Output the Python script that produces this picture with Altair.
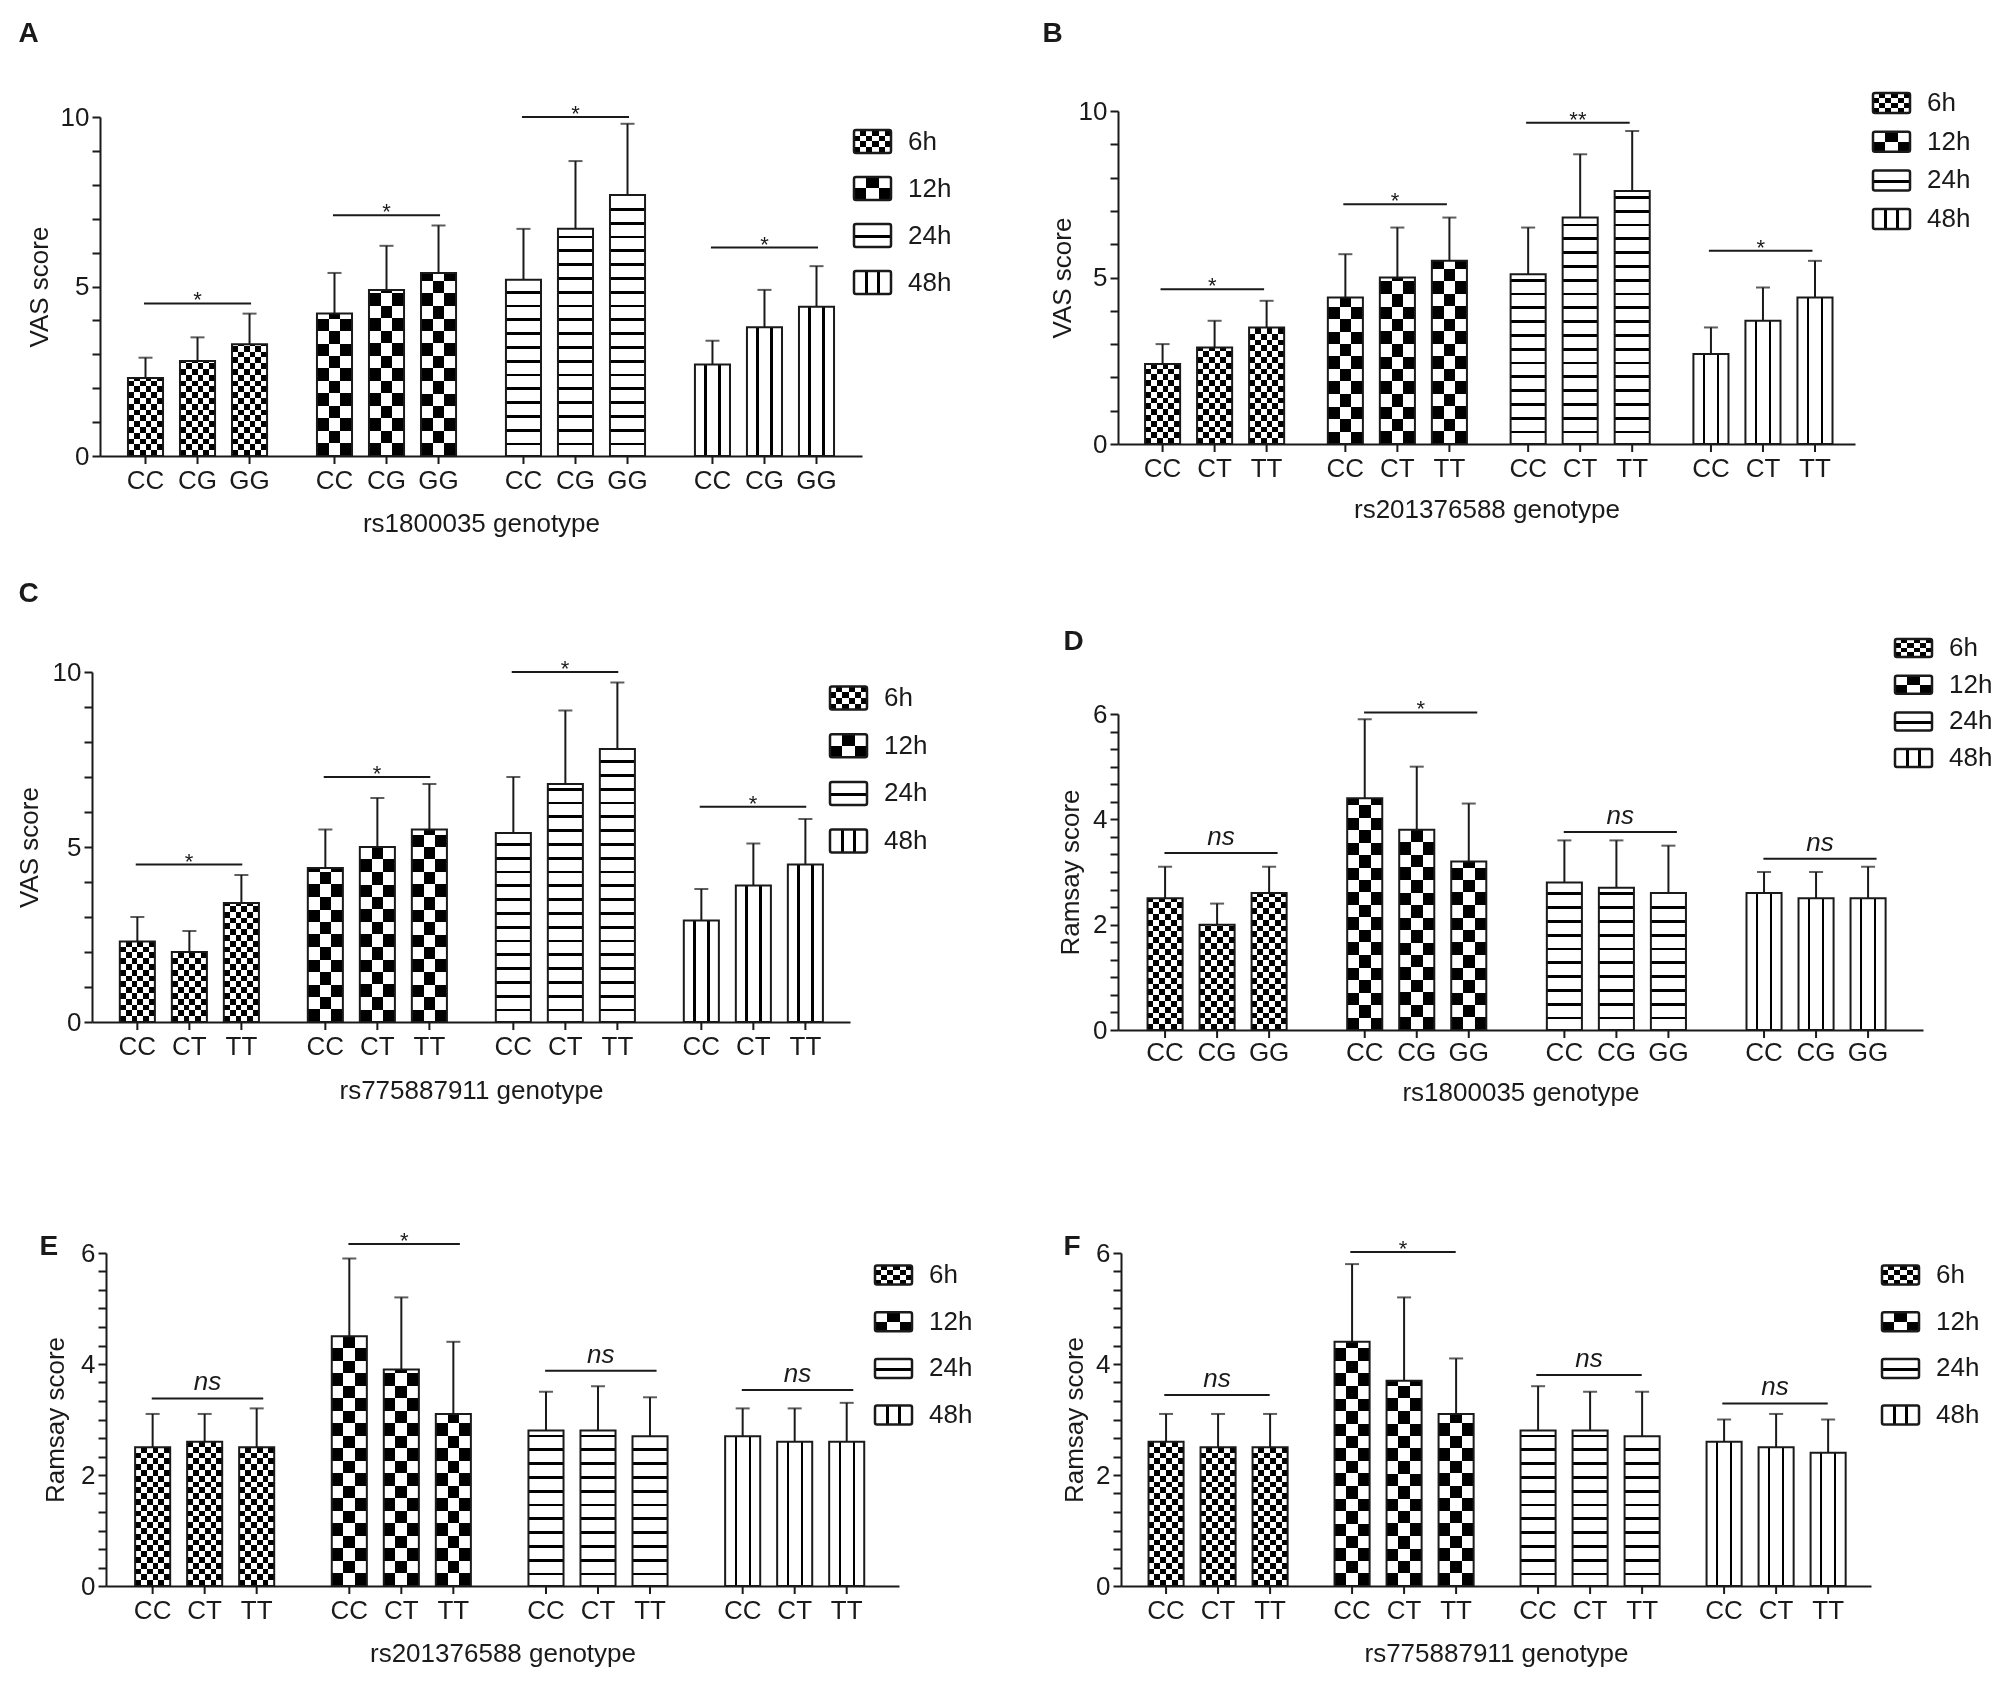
import altair as alt

FONT = "Liberation Sans"
INK = "#1a1a1a"
TIMES = ["6h", "12h", "24h", "48h"]
GENO_G = ["CC", "CG", "GG"]
GENO_T = ["CC", "CT", "TT"]

# values: 6h, 12h, 24h, 48h x three genotypes
# mean = bar height, top = end of the whisker
a_mean = [2.3, 2.8, 3.3, 4.2, 4.9, 5.4, 5.2, 6.7, 7.7, 2.7, 3.8, 4.4]
a_top = [2.9, 3.5, 4.2, 5.4, 6.2, 6.8, 6.7, 8.7, 9.8, 3.4, 4.9, 5.6]
a_sig = [4.5, 7.1, 10.0, 6.15]
a_txt = ["*", "*", "*", "*"]

b_mean = [2.4, 2.9, 3.5, 4.4, 5.0, 5.5, 5.1, 6.8, 7.6, 2.7, 3.7, 4.4]
b_top = [3.0, 3.7, 4.3, 5.7, 6.5, 6.8, 6.5, 8.7, 9.4, 3.5, 4.7, 5.5]
b_sig = [4.65, 7.2, 9.65, 5.8]
b_txt = ["*", "*", "**", "*"]

c_mean = [2.3, 2.0, 3.4, 4.4, 5.0, 5.5, 5.4, 6.8, 7.8, 2.9, 3.9, 4.5]
c_top = [3.0, 2.6, 4.2, 5.5, 6.4, 6.8, 7.0, 8.9, 9.7, 3.8, 5.1, 5.8]
c_sig = [4.5, 7.0, 10.0, 6.15]
c_txt = ["*", "*", "*", "*"]

d_mean = [2.5, 2.0, 2.6, 4.4, 3.8, 3.2, 2.8, 2.7, 2.6, 2.6, 2.5, 2.5]
d_top = [3.1, 2.4, 3.1, 5.9, 5.0, 4.3, 3.6, 3.6, 3.5, 3.0, 3.0, 3.1]
d_sig = [3.36, 6.03, 3.76, 3.25]
d_txt = ["ns", "*", "ns", "ns"]

e_mean = [2.5, 2.6, 2.5, 4.5, 3.9, 3.1, 2.8, 2.8, 2.7, 2.7, 2.6, 2.6]
e_top = [3.1, 3.1, 3.2, 5.9, 5.2, 4.4, 3.5, 3.6, 3.4, 3.2, 3.2, 3.3]
e_sig = [3.38, 6.16, 3.88, 3.53]
e_txt = ["ns", "*", "ns", "ns"]

f_mean = [2.6, 2.5, 2.5, 4.4, 3.7, 3.1, 2.8, 2.8, 2.7, 2.6, 2.5, 2.4]
f_top = [3.1, 3.1, 3.1, 5.8, 5.2, 4.1, 3.6, 3.5, 3.5, 3.0, 3.1, 3.0]
f_sig = [3.44, 6.02, 3.8, 3.29]
f_txt = ["ns", "*", "ns", "ns"]

X_IN, X_OUT, OFF_IN = 0.264, 0.148, 0.326
FS = 26


# ---- hatch patterns as hard-stop linear gradients ----
def stops(segs):
    out = []
    for a, b, col in segs:
        out.append({"offset": round(a, 4), "color": col})
        out.append({"offset": round(b, 4), "color": col})
    return out


def grad(segs, across):
    return {"gradient": "linear", "x1": 0, "y1": 0,
            "x2": 1 if across else 0, "y2": 0 if across else 1,
            "stops": stops(segs)}


def columns(n):
    return grad([(i / n, (i + 1) / n, "black" if i % 2 else "white") for i in range(n)], True)


def rows(hpx, cell):
    # alternating white/black bands counted up from the baseline (used with blend=difference)
    segs, k = [], 0
    while k * cell < hpx - 0.5:
        top = max(0.0, hpx - (k + 1) * cell)
        segs.append((top / hpx, (hpx - k * cell) / hpx, "white" if k % 2 == 0 else "black"))
        k += 1
    return grad(sorted(segs), False)


def lines(centres, half, across):
    segs, pos = [], 0.0
    for c in sorted(centres):
        a, b = max(0.0, c - half), min(1.0, c + half)
        if a > pos:
            segs.append((pos, a, "white"))
        segs.append((a, b, "black"))
        pos = b
    if pos < 1:
        segs.append((pos, 1.0, "white"))
    return grad(segs, across)


def fills(time, hpx, wpx, legend=False):
    if time == "6h":
        return columns(6), rows(hpx, hpx / 4 if legend else 5.8)
    if time == "12h":
        return columns(3), rows(hpx, hpx / 2 if legend else 12.5)
    if time == "24h":
        if legend:
            return lines([0.55], 1.3 / hpx, False), None
        cs, d = [], 12.0
        while d < hpx - 5:
            cs.append(1 - d / hpx)
            d += 13.8
        return lines(cs, 1.35 / hpx, False), None
    return lines([0.3, 0.7] if not legend else [1 / 3, 2 / 3], 1.2 / wpx, True), None


def bar_width(w):
    step = w / (4 - X_IN + 2 * X_OUT)
    band = step * (1 - X_IN)
    return band / (3 - OFF_IN) * (1 - OFF_IN)


def one(**kw):
    return alt.Chart(alt.Data(values=[kw]))


def legend_layers(p):
    s, c0, step, sh = p["leg"]
    sw = 37
    x0 = p["xl"] + p["w"] + s
    c0 += p["yt"]
    pad = 1 - sh / step
    recs = []
    for t in TIMES:
        base, over = fills(t, sh, sw, legend=True)
        r = {"time": t, "base": base}
        if over is not None:
            r["over"] = over
        recs.append(r)
    ys = alt.Scale(domain=TIMES, range=[c0 - step / 2, c0 + 3.5 * step],
                   paddingInner=pad, paddingOuter=pad / 2)
    Y = alt.Y("time:N", scale=ys, axis=None)
    src = alt.Chart(alt.Data(values=recs))
    box = dict(x=alt.value(x0), x2=alt.value(x0 + sw), y=Y)
    return alt.layer(
        src.mark_bar().encode(fill=alt.Fill("base:N", scale=None), **box),
        src.transform_filter("isValid(datum.over)").mark_bar(blend="difference").encode(
            fill=alt.Fill("over:N", scale=None), **box),
        src.mark_bar(fillOpacity=0, stroke=INK, strokeWidth=2.5, cornerRadius=2).encode(**box),
        src.mark_text(align="left", baseline="middle", font=FONT, fontSize=FS, color=INK).encode(
            x=alt.value(x0 + 54), y=Y, text="time:N"),
    )


def panel(p):
    w, h, ymax, xl, yt = p["w"], p["h"], p["ymax"], p["xl"], p["yt"]
    ppu = h / ymax
    bw = bar_width(w)
    recs = []
    for i, (m, top) in enumerate(zip(p["mean"], p["top"])):
        t = TIMES[i // 3]
        base, over = fills(t, m * ppu, bw)
        rec = {"time": t, "slot": i % 3, "geno": p["geno"][i % 3], "mean": m, "top": top, "base": base}
        if over is not None:
            rec["over"] = over
        recs.append(rec)
    sig = [{"time": t, "level": v, "txt": s} for t, v, s in zip(TIMES, p["sig"], p["txt"])]

    n = round(ymax / p["minor"])
    mj = p["major"]
    yaxis = alt.Axis(values=[round(k * p["minor"], 4) for k in range(n + 1)],
                     labelExpr=f"abs(datum.value / {mj} - round(datum.value / {mj})) < 0.01 ? format(datum.value, 'd') : ''",
                     tickSize=8, labelPadding=3, titlePadding=p["ypad"], labelOverlap=False,
                     offset=-xl)
    xaxis = alt.Axis(labels=False, ticks=False, titlePadding=p["xpad"])

    xs = alt.Scale(domain=TIMES, range=[xl, xl + w], paddingInner=X_IN, paddingOuter=X_OUT)
    ofs = alt.Scale(domain=[0, 1, 2], paddingInner=OFF_IN, paddingOuter=0)
    ys = alt.Scale(domain=[0, ymax], range=[yt + h, yt], nice=False)
    x = alt.X("time:N", scale=xs, axis=xaxis, title=p["xtitle"])
    xo = alt.XOffset("slot:O", scale=ofs)

    def y(f):
        return alt.Y(f, scale=ys, axis=yaxis, title=p["ytitle"])

    bars = alt.Chart(alt.Data(values=recs))
    base = bars.mark_bar().encode(
        x=x, xOffset=xo, y=y("mean:Q"), fill=alt.Fill("base:N", scale=None))
    chequer = bars.transform_filter("isValid(datum.over)").mark_bar(blend="difference").encode(
        x=x, xOffset=xo, y=y("mean:Q"), fill=alt.Fill("over:N", scale=None))
    outline = bars.mark_bar(fillOpacity=0, stroke=INK, strokeWidth=2).encode(
        x=x, xOffset=xo, y=y("mean:Q"))
    whisker = bars.mark_rule(color=INK, strokeWidth=2).encode(
        x=x, xOffset=xo, y=y("mean:Q"), y2="top:Q")
    cap = bars.mark_tick(color=INK, thickness=2, size=14).encode(
        x=x, xOffset=xo, y=y("top:Q"))
    gtick = bars.mark_rule(color=INK, strokeWidth=2).encode(
        x=x, xOffset=xo, y=alt.value(yt + h), y2=alt.value(yt + h + 8))
    glab = bars.mark_text(font=FONT, fontSize=FS, color=INK, baseline="middle").encode(
        x=x, xOffset=xo, y=alt.value(yt + h + p["glab"]), text="geno:N")

    sc = alt.Chart(alt.Data(values=sig))
    sline = sc.mark_bar(width=alt.RelativeBandSize(0.77), fillOpacity=0, stroke=INK, strokeWidth=2).encode(
        x=x, y=y("level:Q"), y2="level:Q")
    star = sc.transform_filter("datum.txt != 'ns'").mark_text(
        font=FONT, fontSize=22, color=INK, baseline="alphabetic", dy=4).encode(
        x=x, y=y("level:Q"), text="txt:N")
    ns = sc.transform_filter("datum.txt == 'ns'").mark_text(
        font=FONT, fontSize=FS, fontStyle="italic", color=INK, baseline="alphabetic", dy=-8).encode(
        x=x, y=y("level:Q"), text="txt:N")

    # panel letter, and an invisible frame fixing how far the panel reaches on each side
    lx, ly = p["letter_at"]
    letter = one(t=p["letter"]).mark_text(
        font=FONT, fontSize=28, fontWeight="bold", color=INK, align="left", baseline="alphabetic").encode(
        x=alt.value(xl + lx), y=alt.value(yt + ly), text="t:N")
    le, te, be = p["frame"]
    frame = one(k=0).mark_rule(opacity=0).encode(
        x=alt.value(-le), x2=alt.value(xl + w + p["leg"][0] + 100),
        y=alt.value(-te), y2=alt.value(yt + h + be))

    plot = alt.layer(base, chequer, outline, whisker, cap, gtick, glab, sline, star, ns, letter, frame)
    return alt.layer(plot, legend_layers(p)).resolve_scale(y="independent").properties(
        width=xl + w, height=yt + h)


VAS, RAM = "VAS score", "Ramsay score"
panels = {
    "A": dict(letter="A", geno=GENO_G, mean=a_mean, top=a_top, sig=a_sig, txt=a_txt,
              ytitle=VAS, xtitle="rs1800035 genotype", ymax=10, minor=1, major=5,
              w=762, h=339, xl=8, yt=6, ypad=7.7, xpad=54, glab=25, letter_at=(-81.5, -75.5),
              frame=(80, 96, 89), leg=(-8, 24.5, 47, 23)),
    "B": dict(letter="B", geno=GENO_T, mean=b_mean, top=b_top, sig=b_sig, txt=b_txt,
              ytitle=VAS, xtitle="rs201376588 genotype", ymax=10, minor=1, major=5,
              w=737, h=333, xl=0, yt=0, ypad=3, xpad=52, glab=25, letter_at=(-75.5, -69.5),
              frame=(88, 96, 101), leg=(18, -8, 38.7, 20)),
    "C": dict(letter="C", geno=GENO_T, mean=c_mean, top=c_top, sig=c_sig, txt=c_txt,
              ytitle=VAS, xtitle="rs775887911 genotype", ymax=10, minor=1, major=5,
              w=758, h=350, xl=0, yt=0, ypad=10, xpad=55, glab=25, letter_at=(-73.5, -70.5),
              frame=(80, 97, 93), leg=(-20, 26, 47.7, 23)),
    "D": dict(letter="D", geno=GENO_G, mean=d_mean, top=d_top, sig=d_sig, txt=d_txt,
              ytitle=RAM, xtitle="rs1800035 genotype", ymax=6, minor=1 / 3, major=2,
              w=805, h=316, xl=0, yt=42, ypad=9.5, xpad=49, glab=23, letter_at=(-54.5, -64.5),
              frame=(88, 97, 85), leg=(-28, -66, 36.7, 18)),
    "E": dict(letter="E", geno=GENO_T, mean=e_mean, top=e_top, sig=e_sig, txt=e_txt,
              ytitle=RAM, xtitle="rs201376588 genotype", ymax=6, minor=1 / 3, major=2,
              w=793, h=333, xl=14, yt=0, ypad=12.5, xpad=54, glab=25, letter_at=(-66.5, 1.5),
              frame=(80, 31, 86), leg=(-24, 22, 46.7, 19)),
    "F": dict(letter="F", geno=GENO_T, mean=f_mean, top=f_top, sig=f_sig, txt=f_txt,
              ytitle=RAM, xtitle="rs775887911 genotype", ymax=6, minor=1 / 3, major=2,
              w=750, h=333, xl=0, yt=0, ypad=8.5, xpad=54, glab=25, letter_at=(-57.5, 1.5),
              frame=(91, 31, 86), leg=(11, 22, 46.7, 19)),
}

row1 = alt.hconcat(panel(panels["A"]), panel(panels["B"]), spacing=76)
row2 = alt.hconcat(panel(panels["C"]), panel(panels["D"]), spacing=100)
row3 = alt.hconcat(panel(panels["E"]), panel(panels["F"]), spacing=55)

chart = (
    alt.vconcat(alt.vconcat(row1, row2, spacing=30), row3, spacing=107)
    .properties(padding={"left": 4, "top": 7, "right": 2, "bottom": 2})
    .configure(font=FONT)
    .configure_view(strokeWidth=0)
    .configure_axis(domainColor=INK, domainWidth=2, tickColor=INK, tickWidth=2,
                    labelFont=FONT, labelFontSize=FS, labelColor=INK,
                    titleFont=FONT, titleFontSize=FS, titleFontWeight="normal",
                    titleColor=INK, grid=False)
)

chart.save("out.html", embed_options={"renderer": "svg", "actions": False})
